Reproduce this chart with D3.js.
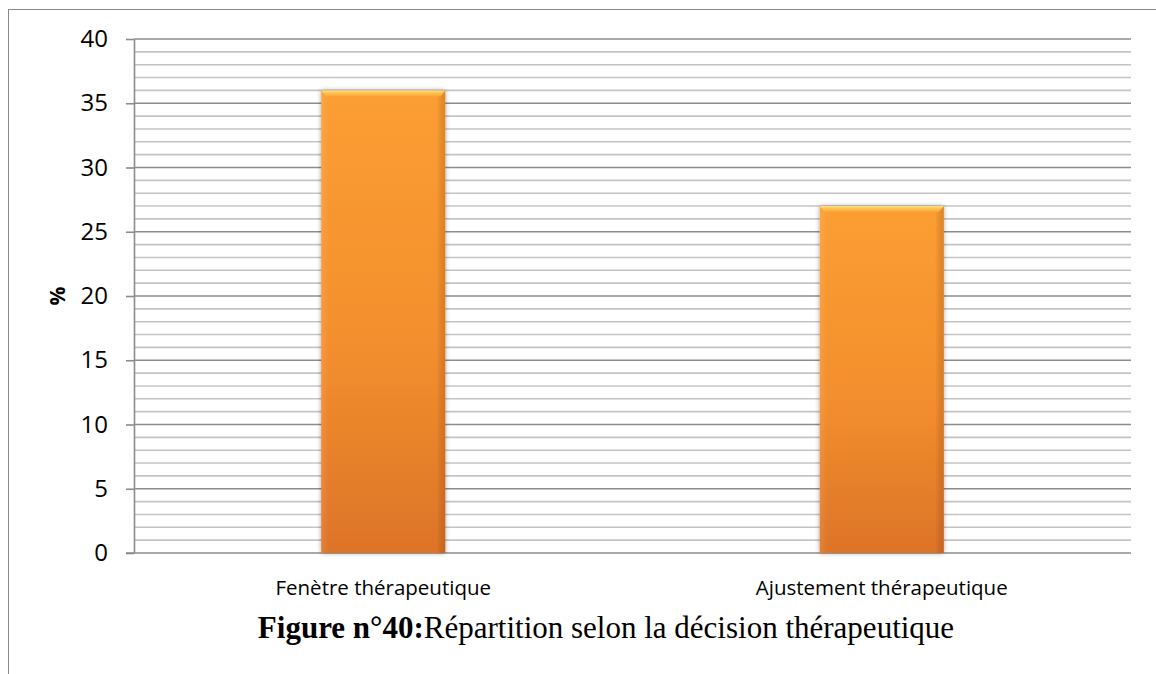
<!DOCTYPE html>
<html>
<head>
<meta charset="utf-8">
<script src="https://cdn.jsdelivr.net/npm/d3@7"></script>
<style>
  html, body { margin: 0; padding: 0; background: #fff; }
  svg { display: block; }
</style>
</head>
<body>
<svg id="chart" width="1156" height="674"></svg>
<script>
// Decision categories and their share (%)
const categories = ["Fenètre thérapeutique", "Ajustement thérapeutique"];
const values = [36, 27];
const majorTicks = [0, 5, 10, 15, 20, 25, 30, 35, 40];
const minorTicks = d3.range(0, 41, 1);
const axisTitle = "%";
const captionBold = "Figure n°40:";
const captionText = "Répartition selon la décision thérapeutique";

const svg = d3.select("#chart");
const W = 1156, H = 674;
const plot = { left: 134, right: 1131, top: 39, bottom: 553 };

// Frame lines (top and left only)
svg.append("line").attr("x1", 8).attr("x2", W).attr("y1", 9.5).attr("y2", 9.5)
  .attr("stroke", "#8a8a8a").attr("stroke-width", 1);
svg.append("line").attr("x1", 8.5).attr("x2", 8.5).attr("y1", 9).attr("y2", H)
  .attr("stroke", "#8a8a8a").attr("stroke-width", 1);

const y = d3.scaleLinear().domain([0, 40]).range([plot.bottom, plot.top]);
const x = d3.scaleBand().domain(categories).range([plot.left, plot.right]).padding(0);

// Gradients and shadow
const defs = svg.append("defs");
const grad = defs.append("linearGradient").attr("id", "barFill")
  .attr("x1", 0).attr("y1", 0).attr("x2", 0).attr("y2", 1);
grad.append("stop").attr("offset", "0%").attr("stop-color", "#fb9e31");
grad.append("stop").attr("offset", "55%").attr("stop-color", "#f38f2e");
grad.append("stop").attr("offset", "100%").attr("stop-color", "#dd7428");

const side = defs.append("linearGradient").attr("id", "barSide")
  .attr("x1", 0).attr("y1", 0).attr("x2", 1).attr("y2", 0);
side.append("stop").attr("offset", "0%").attr("stop-color", "#ffffff").attr("stop-opacity", 0.10);
side.append("stop").attr("offset", "6%").attr("stop-color", "#ffffff").attr("stop-opacity", 0.0);
side.append("stop").attr("offset", "93%").attr("stop-color", "#000000").attr("stop-opacity", 0.0);
side.append("stop").attr("offset", "100%").attr("stop-color", "#7a3000").attr("stop-opacity", 0.22);

const bevel = defs.append("linearGradient").attr("id", "barBevel")
  .attr("x1", 0).attr("y1", 0).attr("x2", 0).attr("y2", 1);
bevel.append("stop").attr("offset", "0%").attr("stop-color", "#fde08a");
bevel.append("stop").attr("offset", "45%").attr("stop-color", "#fcc24f");
bevel.append("stop").attr("offset", "100%").attr("stop-color", "#fba23a");

const shadow = defs.append("filter").attr("id", "barShadow")
  .attr("x", "-10%").attr("y", "-5%").attr("width", "120%").attr("height", "110%");
shadow.append("feGaussianBlur").attr("in", "SourceAlpha").attr("stdDeviation", 2.5).attr("result", "b");
shadow.append("feOffset").attr("in", "b").attr("dx", 0).attr("dy", 0).attr("result", "o");
shadow.append("feComponentTransfer").attr("in", "o").attr("result", "s")
  .append("feFuncA").attr("type", "linear").attr("slope", 0.35);
const merge = shadow.append("feMerge");
merge.append("feMergeNode").attr("in", "s");
merge.append("feMergeNode").attr("in", "SourceGraphic");

// Minor gridlines
svg.append("g").selectAll("line")
  .data(minorTicks.filter(d => d % 5 !== 0))
  .join("line")
  .attr("x1", plot.left).attr("x2", plot.right)
  .attr("y1", d => y(d)).attr("y2", d => y(d))
  .attr("stroke", "#c4c4c4").attr("stroke-width", 1.6);

// Major gridlines
svg.append("g").selectAll("line")
  .data(majorTicks.filter(d => d !== 0))
  .join("line")
  .attr("x1", plot.left).attr("x2", plot.right)
  .attr("y1", d => y(d)).attr("y2", d => y(d))
  .attr("stroke", "#8c8c8c").attr("stroke-width", 1.6);

// Y axis
const yAxis = svg.append("g")
  .attr("transform", `translate(${plot.left},0)`)
  .call(d3.axisLeft(y).tickValues(majorTicks).tickSize(8).tickPadding(18).tickSizeOuter(0));
yAxis.select(".domain").attr("stroke", "#8c8c8c").attr("stroke-width", 1.6);
yAxis.selectAll(".tick line").attr("stroke", "#8c8c8c").attr("stroke-width", 1.6);
yAxis.selectAll(".tick text")
  .attr("font-family", "'Open Sans', sans-serif").attr("font-size", 24).attr("fill", "#000");

// X axis baseline and labels
const xAxis = svg.append("g")
  .attr("transform", `translate(0,${plot.bottom})`)
  .call(d3.axisBottom(x).tickSize(0).tickPadding(27).tickSizeOuter(0));
xAxis.select(".domain").attr("stroke", "#8c8c8c").attr("stroke-width", 1.6)
  .attr("d", `M${plot.left - 8},0H${plot.right}`);
xAxis.selectAll(".tick text")
  .attr("font-family", "'Open Sans', sans-serif").attr("font-size", 20.5).attr("fill", "#000");

// Bars
const barW = x.bandwidth() * 0.249;
const bars = svg.append("g").selectAll("g")
  .data(categories.map((c, i) => ({ c, v: values[i] })))
  .join("g")
  .attr("transform", d => `translate(${x(d.c) + (x.bandwidth() - barW) / 2},${y(d.v)})`);

bars.append("rect")
  .attr("width", barW).attr("height", d => y(0) - y(d.v))
  .attr("fill", "url(#barFill)").attr("filter", "url(#barShadow)");
bars.append("rect")
  .attr("width", barW).attr("height", d => y(0) - y(d.v))
  .attr("fill", "url(#barSide)");
bars.append("path")
  .attr("d", `M0,0H${barW}L${barW - 5},6H5Z`)
  .attr("fill", "url(#barBevel)");

// Y axis title
svg.append("text")
  .attr("transform", `translate(65,${y(20)}) rotate(-90)`)
  .attr("text-anchor", "middle")
  .attr("font-family", "'Open Sans', sans-serif").attr("font-weight", "bold")
  .attr("font-size", 21).text(axisTitle);

// Caption
const cap = svg.append("text")
  .attr("x", 606).attr("y", 638)
  .attr("text-anchor", "middle")
  .attr("font-family", "'Liberation Serif', 'Times New Roman', serif")
  .attr("font-size", 31).attr("fill", "#000");
cap.append("tspan").attr("font-weight", "bold").text(captionBold);
cap.append("tspan").text(captionText);
</script>
</body>
</html>
